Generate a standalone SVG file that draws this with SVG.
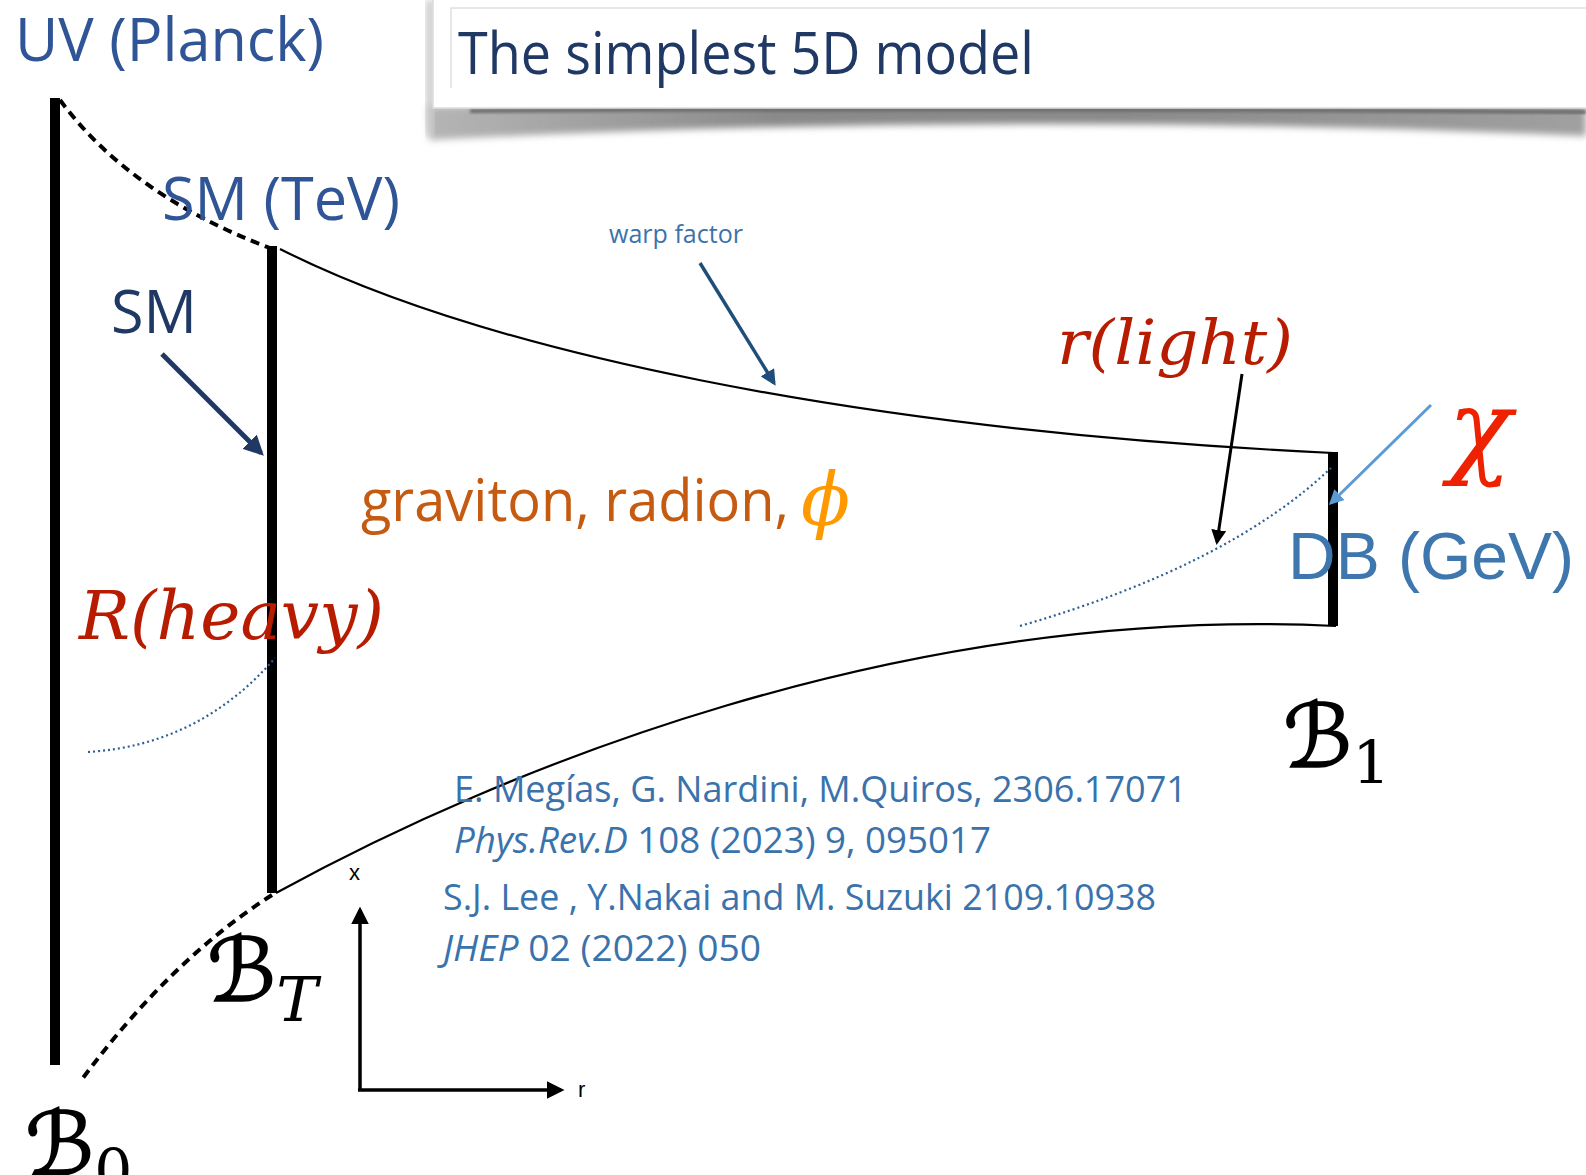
<svg xmlns="http://www.w3.org/2000/svg" width="1586" height="1175" viewBox="0 0 1586 1175">
<style>
.brane{stroke:#000;stroke-width:10;fill:none}
.wall{stroke:#000;stroke-width:2.2;fill:none}
.dash{stroke:#000;stroke-width:4;fill:none;stroke-dasharray:9 6}
.dot{stroke:#2F5F94;stroke-width:2.2;fill:none;stroke-dasharray:2 3}
.sans{font-family:"Open Sans","Noto Sans",sans-serif}
.math{font-family:"DejaVu Serif","Liberation Serif",serif;font-style:italic}
.cal{font-family:"DejaVu Sans","Noto Sans",serif;stroke:#000;stroke-width:1.6}
.ref{font-family:"Open Sans","Noto Sans",sans-serif;font-size:36px;fill:#3A72AB}
</style>
<defs>
<marker id="ahNavy" viewBox="0 0 10 10" refX="8" refY="5" markerWidth="4" markerHeight="4" orient="auto"><path d="M0,0 L10,5 L0,10 Z" fill="#203864"/></marker>
<marker id="ahDark" viewBox="0 0 10 10" refX="8" refY="5" markerWidth="4.5" markerHeight="4.5" orient="auto"><path d="M0,0 L10,5 L0,10 Z" fill="#1F4E79"/></marker>
<marker id="ahBlack" viewBox="0 0 10 10" refX="8" refY="5" markerWidth="5" markerHeight="5" orient="auto"><path d="M0,0 L10,5 L0,10 Z" fill="#000"/></marker>
<marker id="ahLight" viewBox="0 0 10 10" refX="8" refY="5" markerWidth="5" markerHeight="5" orient="auto"><path d="M0,0 L10,5 L0,10 Z" fill="#5B9BD5"/></marker>
<filter id="blur" x="-10%" y="-100%" width="120%" height="300%"><feGaussianBlur stdDeviation="3.5"/></filter>
<filter id="blur2" x="-10%" y="-100%" width="120%" height="300%"><feGaussianBlur stdDeviation="1.5"/></filter>
<linearGradient id="shg" x1="0" y1="0" x2="1" y2="0">
<stop offset="0" stop-color="#b5b5b5"/>
<stop offset="0.3" stop-color="#8a8a8a"/>
<stop offset="0.6" stop-color="#8a8a8a"/>
<stop offset="1" stop-color="#a0a0a0"/>
</linearGradient>
</defs>
<rect width="1586" height="1175" fill="#fff"/>

<g id="title">
<path d="M428,106 L1586,106 L1586,136 Q1000,110 430,140 Z" fill="url(#shg)" filter="url(#blur)"/>
<path d="M470,111 Q1000,108 1586,112" fill="none" stroke="#6a6a6a" stroke-width="4" filter="url(#blur2)"/>
<rect x="426" y="0" width="8" height="136" fill="#c8c8c8" filter="url(#blur)"/>
<rect x="433" y="-4" width="1160" height="112" fill="#fff" stroke="#dcdcdc" stroke-width="1.5"/>
<path d="M451,88 L451,8 L1586,8" fill="none" stroke="#e0e0e0" stroke-width="1.5"/>
<text x="458" y="74" class="sans" font-size="58" fill="#203864" textLength="576" lengthAdjust="spacingAndGlyphs">The simplest 5D model</text>
</g>

<g id="uv-label"><text x="15" y="61" class="sans" font-size="60" fill="#2F5597" textLength="309" lengthAdjust="spacingAndGlyphs">UV (Planck)</text></g>

<g id="brane-B0"><line x1="55" y1="98" x2="55" y2="1065" class="brane"/></g>
<g id="brane-BT"><line x1="272" y1="246" x2="272" y2="893" class="brane"/></g>
<g id="brane-B1"><line x1="1333" y1="452" x2="1333" y2="626" class="brane" stroke-width="9"/></g>

<g id="connectors">
<path d="M60,100 Q130,195 270,248" class="dash"/>
<path d="M272,895 Q170,960 80,1082" class="dash"/>
<path d="M280,249 C480,350 850,430 1333,453" class="wall"/>
<path d="M276,893 C500,770 900,605 1336,626" class="wall"/>
<path d="M88,752 Q200,745 275,658" class="dot"/>
<path d="M1020,626 Q1230,565 1332,467" class="dot"/>
<line x1="162" y1="354" x2="261" y2="453" stroke="#203864" stroke-width="5" marker-end="url(#ahNavy)"/>
<line x1="700" y1="263" x2="774" y2="383" stroke="#1F4E79" stroke-width="3.5" marker-end="url(#ahDark)"/>
<line x1="1242" y1="374" x2="1217" y2="542" stroke="#000" stroke-width="3" marker-end="url(#ahBlack)"/>
<line x1="1431" y1="405" x2="1331" y2="503" stroke="#5B9BD5" stroke-width="3" marker-end="url(#ahLight)"/>
<line x1="360" y1="1090" x2="360" y2="910" stroke="#000" stroke-width="3.5" marker-end="url(#ahBlack)"/>
<line x1="358" y1="1090" x2="561" y2="1090" stroke="#000" stroke-width="3.5" marker-end="url(#ahBlack)"/>
</g>

<g id="sm-tev"><text x="162" y="220" class="sans" font-size="60" fill="#2F5597" textLength="238" lengthAdjust="spacingAndGlyphs">SM (TeV)</text></g>
<g id="sm"><text x="111" y="333" class="sans" font-size="60" fill="#203864" textLength="86" lengthAdjust="spacingAndGlyphs">SM</text></g>
<g id="warp"><text x="609" y="243" class="sans" font-size="25" fill="#3B73AA" textLength="134" lengthAdjust="spacingAndGlyphs">warp factor</text></g>
<g id="fields">
<text x="361" y="521" class="sans" font-size="58" fill="#C55A11" textLength="428" lengthAdjust="spacingAndGlyphs">graviton, radion,</text>
<text x="801" y="525" class="math" font-size="72" fill="#FF9900">ϕ</text>
</g>
<g id="R-heavy"><text x="79" y="639" class="math" font-size="67" fill="#B71C00" textLength="305" lengthAdjust="spacingAndGlyphs">R(heavy)</text></g>
<g id="r-light"><text x="1057" y="364" class="math" font-size="62" fill="#B71C00" textLength="236" lengthAdjust="spacingAndGlyphs">r(light)</text></g>
<g id="chi"><text x="1448" y="464" class="math" font-size="105" fill="#EE2200">χ</text></g>
<g id="db"><text x="1288" y="579" font-family="Liberation Sans, Arial, sans-serif" font-size="66" fill="#3E77AD">DB (GeV)</text></g>

<g id="B1"><text x="1283" y="767" class="cal" font-size="88" fill="#000">ℬ<tspan font-family="DejaVu Serif, serif" font-size="60" stroke-width="0" dy="17">1</tspan></text></g>
<g id="BT"><text x="207" y="1001" class="cal" font-size="88" fill="#000">ℬ<tspan class="math" font-size="62" stroke-width="0" dy="20">T</tspan></text></g>
<g id="B0"><text x="25" y="1175" class="cal" font-size="88" fill="#000">ℬ<tspan font-family="DejaVu Serif, serif" font-size="60" stroke-width="0" dy="17">0</tspan></text></g>

<g id="axis-labels">
<text x="349" y="880" font-family="Liberation Sans, Arial, sans-serif" font-size="22" fill="#000">x</text>
<text x="578" y="1097" font-family="Liberation Sans, Arial, sans-serif" font-size="22" fill="#000">r</text>
</g>

<g id="references">
<text x="454" y="802" class="ref" textLength="733" lengthAdjust="spacingAndGlyphs">E. Megías, G. Nardini, M.Quiros, 2306.17071</text>
<text x="454" y="853" class="ref" textLength="537" lengthAdjust="spacingAndGlyphs"><tspan font-style="italic">Phys.Rev.D</tspan> 108 (2023) 9, 095017</text>
<text x="443" y="910" class="ref" textLength="713" lengthAdjust="spacingAndGlyphs">S.J. Lee , Y.Nakai and M. Suzuki 2109.10938</text>
<text x="443" y="961" class="ref" textLength="318" lengthAdjust="spacingAndGlyphs"><tspan font-style="italic">JHEP</tspan> 02 (2022) 050</text>
</g>
</svg>
